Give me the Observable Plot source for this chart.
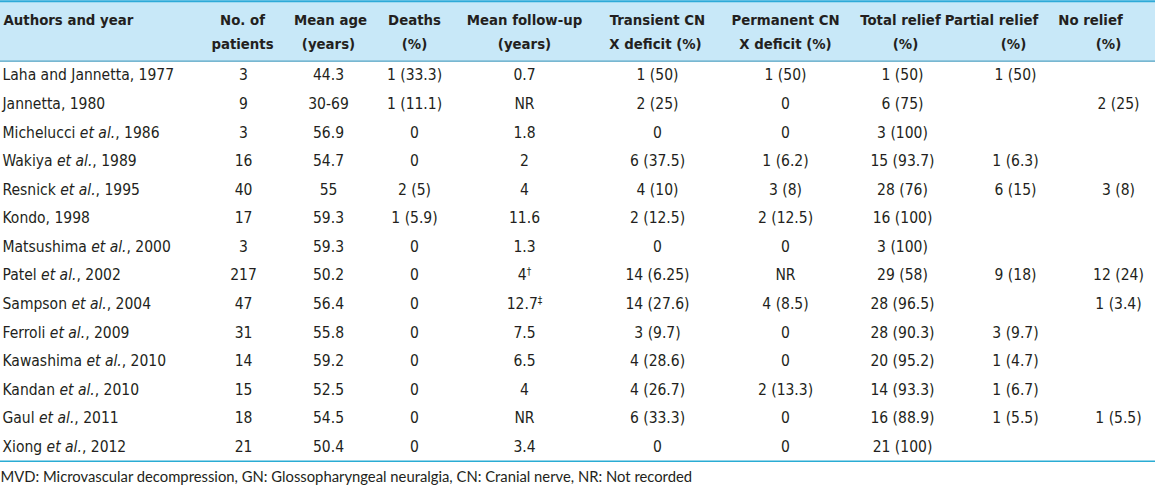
<!DOCTYPE html>
<html><head><meta charset="utf-8">
<script src="https://cdn.jsdelivr.net/npm/d3@7"></script>
<script src="https://cdn.jsdelivr.net/npm/@observablehq/plot@0.6"></script>
<style>
body{margin:0;background:#fff}
#chart svg{display:block}
</style>
</head><body><div id="chart"></div>
<script>
// ---------- data ----------
const authors = ["Laha and Jannetta, 1977","Jannetta, 1980","Michelucci et al., 1986","Wakiya et al., 1989","Resnick et al., 1995","Kondo, 1998","Matsushima et al., 2000","Patel et al., 2002","Sampson et al., 2004","Ferroli et al., 2009","Kawashima et al., 2010","Kandan et al., 2010","Gaul et al., 2011","Xiong et al., 2012"];
const patients = ["3","9","3","16","40","17","3","217","47","31","14","15","18","21"];
const meanAge = ["44.3","30-69","56.9","54.7","55","59.3","59.3","50.2","56.4","55.8","59.2","52.5","54.5","50.4"];
const deaths = ["1 (33.3)","1 (11.1)","0","0","2 (5)","1 (5.9)","0","0","0","0","0","0","0","0"];
const followUp = ["0.7","NR","1.8","2","4","11.6","1.3","4†","12.7‡","7.5","6.5","4","NR","3.4"];
const transientDeficit = ["1 (50)","2 (25)","0","6 (37.5)","4 (10)","2 (12.5)","0","14 (6.25)","14 (27.6)","3 (9.7)","4 (28.6)","4 (26.7)","6 (33.3)","0"];
const permanentDeficit = ["1 (50)","0","0","1 (6.2)","3 (8)","2 (12.5)","0","NR","4 (8.5)","0","0","2 (13.3)","0","0"];
const totalRelief = ["1 (50)","6 (75)","3 (100)","15 (93.7)","28 (76)","16 (100)","3 (100)","29 (58)","28 (96.5)","28 (90.3)","20 (95.2)","14 (93.3)","16 (88.9)","21 (100)"];
const partialRelief = ["1 (50)","","","1 (6.3)","6 (15)","","","9 (18)","","3 (9.7)","1 (4.7)","1 (6.7)","1 (5.5)",""];
const noRelief = ["","2 (25)","","","3 (8)","","","12 (24)","1 (3.4)","","","","1 (5.5)",""];
const headerLine1 = ["Authors and year","No. of","Mean age","Deaths","Mean follow-up","Transient CN","Permanent CN","Total relief","Partial relief","No relief"];
const headerLine2 = ["","patients","(years)","(%)","(years)","X deficit (%)","X deficit (%)","(%)","(%)","(%)"];
const footnote = "MVD: Microvascular decompression, GN: Glossopharyngeal neuralgia, CN: Cranial nerve, NR: Not recorded";

// ---------- layout (positions in the x/y scale domains) ----------
const columns = [patients, meanAge, deaths, followUp, transientDeficit, permanentDeficit, totalRelief, partialRelief, noRelief];
const dataX  = [243, 328, 414, 524, 657, 785, 902, 1015, 1118];
const head1X = [3, 242, 330, 414, 524, 657, 785, 900, 991, 1090];
const head2X = [3, 242, 328, 414, 524, 655, 785, 905, 1013, 1108];
const authorX = 2;
const headRow1 = -1.94, headRow2 = -1.1, headTop = -2.6, headBottom = -0.5, tableBottom = 13.5, footRow = 14.05;

const cells = [];
columns.forEach((col, c) => col.forEach((v, r) => { if (v) cells.push({x: dataX[c], row: r, text: v}); }));
const authorCells = authors.map((a, r) => ({x: authorX, row: r, text: a}));
const head1 = headerLine1.map((t, c) => ({x: head1X[c], text: t, first: c === 0}));
const head2 = headerLine2.map((t, c) => ({x: head2X[c], text: t})).filter(d => d.text);

const ink = "#231f20";
const bodyFont = "'DejaVu Sans Condensed', 'DejaVu Sans', sans-serif";
const headSize = 14.8;
const plot = Plot.plot({
  width: 1155, height: 488,
  margin: 0,
  x: {type: "linear", domain: [0, 1155], axis: null},
  y: {type: "linear", domain: [-2.625, 14.455], reverse: true, axis: null},
  style: {fontFamily: bodyFont, fontSize: "15.5px", color: ink, background: "#fff"},
  marks: [
    Plot.rect([0], {x1: 0, x2: 1155, y1: headTop, y2: headBottom, fill: "#c8e8f8"}),
    Plot.ruleY([headTop], {stroke: "#2eaad8", strokeWidth: 2}),
    Plot.ruleY([headBottom], {stroke: "#4b9fc2", strokeWidth: 1.2}),
    Plot.ruleY([tableBottom], {stroke: "#2aacd4", strokeWidth: 1.5}),
    Plot.text(head1.filter(d => d.first), {x: "x", y: () => headRow1, text: "text", textAnchor: "start", fontWeight: "bold", fontSize: headSize, fill: ink}),
    Plot.text(head1.filter(d => !d.first), {x: "x", y: () => headRow1, text: "text", textAnchor: "middle", fontWeight: "bold", fontSize: headSize, fill: ink}),
    Plot.text(head2, {x: "x", y: () => headRow2, text: "text", textAnchor: "middle", fontWeight: "bold", fontSize: headSize, fill: ink}),
    Plot.text(authorCells, {x: "x", y: "row", text: "text", textAnchor: "start", fontSize: 15.5, fill: ink}),
    Plot.text(cells, {x: "x", y: "row", text: "text", textAnchor: "middle", fontSize: 15.5, fill: ink}),
    Plot.text([footnote], {x: () => 0, y: () => footRow, text: d => d, textAnchor: "start", fontSize: 14.8, fontFamily: "Lato, sans-serif", fill: ink})
  ]
});
document.getElementById("chart").appendChild(plot);

// italic "et al." and superscript daggers
plot.querySelectorAll("text").forEach(el => {
  const t = el.textContent;
  if (t.includes("et al.")) {
    const [pre, post] = t.split("et al.");
    el.textContent = "";
    const a = document.createElementNS("http://www.w3.org/2000/svg", "tspan"); a.textContent = pre;
    const b = document.createElementNS("http://www.w3.org/2000/svg", "tspan"); b.textContent = "et al."; b.setAttribute("font-style", "italic");
    const c = document.createElementNS("http://www.w3.org/2000/svg", "tspan"); c.textContent = post;
    el.append(a, b, c);
  } else if (/[†‡]$/.test(t)) {
    const base = t.slice(0, -1), mark = t.slice(-1);
    el.textContent = "";
    const a = document.createElementNS("http://www.w3.org/2000/svg", "tspan"); a.textContent = base;
    const b = document.createElementNS("http://www.w3.org/2000/svg", "tspan"); b.textContent = mark;
    b.setAttribute("font-size", "10"); b.setAttribute("dy", "-0.5em");
    el.append(a, b);
  }
});
</script>
</body></html>
